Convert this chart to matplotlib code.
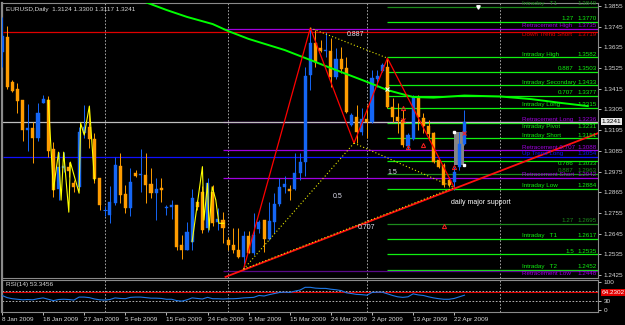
import matplotlib
matplotlib.use('Agg')
import matplotlib.pyplot as plt
import matplotlib.transforms as mtransforms
from matplotlib.patches import Rectangle

plt.rcParams['font.family'] = ['Liberation Sans', 'DejaVu Sans']

# daily EURUSD bars, one per trading day (Sunday bars included)
opens = [1.3610, 1.3690, 1.3451, 1.3414, 1.3355, 1.3195, 1.3206, 1.3153, 1.3339, 1.3355,
         1.3094, 1.2882, 1.2993, 1.2999, 1.2913, 1.2892, 1.3179, 1.3211, 1.3148, 1.2940,
         1.2772, 1.2743, 1.2807, 1.3004, 1.2855, 1.2780, 1.2967, 1.2956, 1.2956, 1.2908,
         1.2860, 1.2887, 1.2780, 1.2786, 1.2796, 1.2584, 1.2557, 1.2600, 1.2812, 1.2866,
         1.2674, 1.2866, 1.2706, 1.2717, 1.2610, 1.2584, 1.2557, 1.2520, 1.2632, 1.2541,
         1.2669, 1.2717, 1.2616, 1.2706, 1.2802, 1.2892, 1.2882, 1.2882, 1.2967, 1.3025,
         1.3488, 1.3658, 1.3632, 1.3616, 1.3616, 1.3477, 1.3573, 1.3525, 1.3222, 1.3265,
         1.3185, 1.3254, 1.3238, 1.3467, 1.3509, 1.3531, 1.3318, 1.3265, 1.3249, 1.3110,
         1.3148, 1.3371, 1.3259, 1.3217, 1.3179, 1.3036, 1.3009, 1.2929, 1.2919, 1.2999,
         1.3124]
highs = [1.3797, 1.3749, 1.3461, 1.3445, 1.3355, 1.3334, 1.3238, 1.3339, 1.3382, 1.3376,
         1.3132, 1.3078, 1.3078, 1.3025, 1.2929, 1.3211, 1.3328, 1.3318, 1.3179, 1.2940,
         1.2791, 1.2897, 1.3052, 1.3073, 1.2903, 1.2993, 1.2983, 1.3094, 1.3073, 1.2993,
         1.2940, 1.2940, 1.2796, 1.2823, 1.2796, 1.2637, 1.2706, 1.2881, 1.2823, 1.2897,
         1.2940, 1.2903, 1.2780, 1.2759, 1.2626, 1.2674, 1.2674, 1.2658, 1.2658, 1.2754,
         1.2717, 1.2717, 1.2812, 1.2860, 1.2940, 1.2951, 1.2903, 1.3073, 1.3073, 1.3531,
         1.3738, 1.3727, 1.3674, 1.3717, 1.3685, 1.3632, 1.3637, 1.3584, 1.3286, 1.3328,
         1.3312, 1.3328, 1.3515, 1.3515, 1.3552, 1.3578, 1.3366, 1.3339, 1.3302, 1.3179,
         1.3382, 1.3382, 1.3286, 1.3249, 1.3185, 1.3046, 1.3020, 1.2945, 1.2999, 1.3185,
         1.3300]
lows = [1.3531, 1.3412, 1.3398, 1.3286, 1.3137, 1.3084, 1.3020, 1.3137, 1.3339, 1.3052,
        1.2839, 1.2823, 1.2972, 1.2945, 1.2866, 1.2876, 1.3153, 1.3100, 1.2913, 1.2770,
        1.2738, 1.2701, 1.2796, 1.2807, 1.2754, 1.2738, 1.2945, 1.2866, 1.2807, 1.2834,
        1.2717, 1.2812, 1.2743, 1.2722, 1.2557, 1.2509, 1.2557, 1.2557, 1.2770, 1.2647,
        1.2653, 1.2685, 1.2663, 1.2594, 1.2557, 1.2541, 1.2514, 1.2456, 1.2541, 1.2530,
        1.2647, 1.2546, 1.2610, 1.2647, 1.2791, 1.2860, 1.2823, 1.2876, 1.2929, 1.2951,
        1.3408, 1.3531, 1.3610, 1.3584, 1.3424, 1.3467, 1.3499, 1.3286, 1.3217, 1.3126,
        1.3169, 1.3153, 1.3233, 1.3424, 1.3504, 1.3312, 1.3238, 1.3179, 1.3105, 1.3089,
        1.3142, 1.3195, 1.3179, 1.3142, 1.3020, 1.2993, 1.2892, 1.2892, 1.2876, 1.2983,
        1.3117]
closes = [1.3696, 1.3424, 1.3403, 1.3350, 1.3195, 1.3206, 1.3153, 1.3286, 1.3360, 1.3084,
          1.2876, 1.2999, 1.3004, 1.2977, 1.2892, 1.3185, 1.3211, 1.3148, 1.2935, 1.2796,
          1.2772, 1.2812, 1.3009, 1.2850, 1.2780, 1.2919, 1.2951, 1.2961, 1.2903, 1.2860,
          1.2882, 1.2876, 1.2786, 1.2796, 1.2573, 1.2557, 1.2653, 1.2834, 1.2786, 1.2663,
          1.2913, 1.2701, 1.2722, 1.2674, 1.2584, 1.2557, 1.2520, 1.2632, 1.2541, 1.2637,
          1.2706, 1.2616, 1.2711, 1.2802, 1.2892, 1.2908, 1.2871, 1.2967, 1.3025, 1.3483,
          1.3658, 1.3557, 1.3616, 1.3621, 1.3477, 1.3573, 1.3520, 1.3291, 1.3275, 1.3185,
          1.3254, 1.3238, 1.3472, 1.3483, 1.3541, 1.3318, 1.3265, 1.3243, 1.3116, 1.3169,
          1.3371, 1.3265, 1.3217, 1.3174, 1.3025, 1.2999, 1.2903, 1.2903, 1.2972, 1.3121,
          1.3241]

rsi_values = [52, 44, 40, 38, 36, 37, 36, 40, 43, 38,
              33, 37, 38, 37, 35, 46, 46, 44, 39, 36,
              35, 37, 43, 41, 40, 45, 46, 46, 44, 42,
              42, 41, 38, 38, 33, 31, 36, 43, 41, 39,
              45, 40, 40, 39, 40, 40, 41, 43, 44, 45,
              52, 50, 55, 59, 63, 64, 63, 68, 72, 82,
              82, 79, 78, 78, 75, 73, 70, 62, 59, 56,
              55, 53, 63, 64, 64, 58, 52, 47, 45, 47,
              58, 54, 52, 47, 43, 40, 38, 38, 41, 47,
              53]

date_ticks  = [0, 8, 16, 24, 32, 40, 48, 56, 64, 72, 80, 88]
date_labels = ['8 Jan 2009', '18 Jan 2009', '27 Jan 2009', '5 Feb 2009', '15 Feb 2009',
               '24 Feb 2009', '5 Mar 2009', '15 Mar 2009', '24 Mar 2009', '2 Apr 2009',
               '13 Apr 2009', '22 Apr 2009']
month_grid  = [20, 44, 71, 97]
price_ticks = [1.3855, 1.3745, 1.3635, 1.3525, 1.3415, 1.3305, 1.3195,
               1.3085, 1.2975, 1.2865, 1.2755, 1.2645, 1.2535, 1.2425]

# moving average (shifted forward), read at a few bars
ma_bars   = [27, 32, 36, 41, 44, 48, 55, 60, 64, 71, 75, 80, 84, 90, 97, 103, 109, 114]
ma_prices = [1.3885, 1.3834, 1.3797, 1.3759, 1.3722, 1.3680, 1.3621, 1.3568, 1.3525,
             1.3452, 1.3408, 1.3371, 1.3368, 1.3379, 1.3374, 1.3360, 1.3339, 1.3323]

# harmonic pattern X A B C D
pat_bars   = [47, 60, 68.5, 75, 88]
pat_prices = [1.2456, 1.3738, 1.3126, 1.3578, 1.2890]

trend_bars   = [43.5, 116]
trend_prices = [1.2415, 1.3179]

zig1_bars   = [9, 10, 11, 11.5, 12, 13, 13.3, 15, 15.3, 16, 17, 18]
zig1_prices = [1.3355, 1.2876, 1.3078, 1.2823, 1.3078, 1.2759, 1.3025, 1.2860,
               1.3233, 1.3169, 1.3323, 1.2929]
zig2_bars   = [37, 39, 39.3, 40, 40.3, 40.9, 41.6, 42.2, 43.2]
zig2_prices = [1.2602, 1.3001, 1.2717, 1.2912, 1.2664, 1.2894, 1.2824, 1.2700, 1.2700]

# pivot / retracement levels drawn on the right
level_names  = ['Intraday   T1', '1.27', 'Retracement High', 'Down Trend Short', 'Intraday High',
                '0.887', 'Intraday Secondary', '0.707', 'Intraday Long', 'Retracement Long',
                'Intraday Pivot', 'Intraday Short', 'Retracement 0.707', 'Up Trend Long', '0.786',
                '0.887', 'Retracement Short', 'Intraday Low', '1.27', 'Intraday   T1',
                '1.5', 'Intraday   T2', 'Retracement Low']
level_prices = [1.3849, 1.3770, 1.3735, 1.3719, 1.3582,
                1.3503, 1.3433, 1.3377, 1.3315, 1.3236,
                1.3231, 1.3151, 1.3088, 1.3054, 1.3033,
                1.2963, 1.2942, 1.2884, 1.2695, 1.2617,
                1.2535, 1.2452, 1.2448]
level_kinds  = ['dkgreen', 'green', 'purple', 'red', 'green',
                'green', 'green', 'green', 'green', 'purple',
                'green', 'green', 'purple', 'blue', 'green',
                'dkgreen', 'purple', 'green', 'dkgreen', 'green',
                'green', 'green', 'dkpurple']
# labels drawn under their line where two levels sit close together
labels_below = ['Down Trend Short', 'Intraday Pivot', '0.786', 'Retracement Low']

ratio_texts  = ['0.887', '0.5', '0.707', '1.5']
ratio_bars   = [68.8, 65.3, 71.0, 76.0]
ratio_prices = [1.3701, 1.2845, 1.2675, 1.2972]

arrow_bars   = [78, 79, 82, 88, 86]
arrow_prices = [1.3313, 1.3105, 1.3116, 1.2999, 1.2685]
cross_bars   = [78, 90]
cross_prices = [1.3249, 1.3180]

box_bars   = [88, 90]
box_prices = [1.3009, 1.3187]

last_price = 1.3241
rsi_last   = 53.3456


def main():
    bg      = '#000000'
    bull    = '#1566F5'
    bear    = '#FF9C00'
    fg      = '#D8D8D8'
    spine_c = '#8A8A8A'
    fs      = 4.6
    fs_lvl  = 4.5
    colors  = {'green': '#10F010', 'dkgreen': '#1C8A1C', 'purple': '#A000E0',
               'dkpurple': '#5A0A88', 'red': '#E00000', 'blue': '#1010FF'}

    fig = plt.figure(figsize=(6.25, 3.25), dpi=100, facecolor=bg)
    ax  = fig.add_axes([2 / 625, 47 / 325, 596 / 625, 275 / 325], facecolor=bg)
    ax2 = fig.add_axes([2 / 625, 13 / 325, 596 / 625, 32 / 325], facecolor=bg, sharex=ax)

    x_lo, x_hi = 0.17, 115.98
    ax.set_xlim(x_lo, x_hi)
    ax.set_ylim(1.24091, 1.38710)
    ax2.set_ylim(-9, 109)

    for a in (ax, ax2):
        for s in a.spines.values():
            s.set_color(spine_c)
            s.set_linewidth(0.8)
        a.spines['left'].set_linewidth(1.6)
        for g in month_grid:
            a.axvline(g, color='#BBBBBB', lw=0.6, ls=(0, (2, 2)), zorder=1)

    # candles
    for i in range(len(opens)):
        o, h, l, c = opens[i], highs[i], lows[i], closes[i]
        col = bull if c >= o else bear
        ax.vlines(i, l, h, color=col, lw=0.7, zorder=4)
        if abs(c - o) < 1e-6:
            ax.hlines(o, i - 0.35, i + 0.35, color=col, lw=0.8, zorder=4)
        else:
            ax.add_patch(Rectangle((i - 0.3, min(o, c)), 0.6, abs(c - o),
                                   facecolor=col, edgecolor=col, lw=0.3, zorder=5))

    ax.add_patch(Rectangle((box_bars[0], box_prices[0]), box_bars[1] - box_bars[0],
                           box_prices[1] - box_prices[0], facecolor='#858585',
                           edgecolor='none', zorder=3))
    ax.plot([box_bars[0], box_bars[1]], [box_prices[1], box_prices[0]], ls='none',
            marker='s', ms=1.6, color='white', zorder=7)

    # levels
    for name, p, kind in zip(level_names, level_prices, level_kinds):
        col = colors[kind]
        if kind in ('red', 'blue'):
            start = x_lo
        elif kind in ('purple', 'dkpurple'):
            start = 43
        else:
            start = 75
        ax.hlines(p, start, x_hi, color=col, lw=0.9, zorder=2)
        tcol = colors['purple'] if kind == 'dkpurple' else col
        if name in labels_below:
            ty, va = p - 0.0004, 'top'
        else:
            ty, va = p + 0.0004, 'bottom'
        if name[0].isdigit():
            ax.text(111.3, ty, name, color=tcol, fontsize=fs_lvl, ha='right', va=va, zorder=8)
        else:
            ax.text(101.2, ty, name, color=tcol, fontsize=fs_lvl, ha='left', va=va, zorder=8)
        ax.text(115.7, ty, f'{p:.4f}', color=tcol, fontsize=fs_lvl, ha='right', va=va, zorder=8)

    ax.axhline(last_price, color='#BEBEBE', lw=0.9, zorder=2)

    # moving average
    ax.plot(ma_bars, ma_prices, color='#00FF00', lw=1.4, zorder=6)

    # yellow zigzags
    ax.plot(zig1_bars, zig1_prices, color='#FFFF00', lw=0.8, zorder=6)
    ax.plot(zig2_bars, zig2_prices, color='#FFFF00', lw=0.8, zorder=6)

    # trend line
    ax.plot(trend_bars, trend_prices, color='#FF1010', lw=1.3, zorder=6)

    # pattern
    ax.plot(pat_bars, pat_prices, color='#FF0000', lw=0.9, zorder=6)
    dots = dict(color='#E8E800', lw=0.8, ls=(0, (1, 2)), zorder=7)
    for a_i, b_i in [(0, 2), (2, 4), (1, 3), (0, 4)]:
        ax.plot([pat_bars[a_i], pat_bars[b_i]], [pat_prices[a_i], pat_prices[b_i]], **dots)

    for t, b, p in zip(ratio_texts, ratio_bars, ratio_prices):
        ax.text(b, p, t, color='#E0E0F0', fontsize=fs + 0.4, ha='center', va='center', zorder=8)
    ax.text(87.4, 1.2813, 'daily major support', color='white', fontsize=fs + 0.4,
            ha='left', va='center', zorder=8)

    ax.plot(arrow_bars, arrow_prices, ls='none', marker='^', ms=3, mfc='none',
            mec='#FF2020', mew=0.7, zorder=8)
    ax.plot(cross_bars, cross_prices, ls='none', marker='x', ms=2.5, color='#FF2020',
            mew=0.8, zorder=8)
    ax.plot([75], [1.3412], ls='none', marker='x', ms=2.5, color='white', mew=0.8, zorder=8)
    ax.plot([92.6], [1.3850], ls='none', marker='v', ms=2.5, color='white', zorder=8)

    # axes
    ax.yaxis.tick_right()
    ax.set_yticks(price_ticks)
    ax.set_yticklabels([f'{v:.4f}' for v in price_ticks])
    ax.tick_params(axis='y', colors=fg, labelsize=fs, length=2, pad=2, width=0.6)
    ax.tick_params(axis='x', bottom=False, labelbottom=False)
    tr = mtransforms.blended_transform_factory(ax.transAxes, ax.transData)
    ax.text(1.006, last_price, f'{last_price:.4f}', transform=tr, color='black', fontsize=fs,
            ha='left', va='center', zorder=9, clip_on=False,
            bbox=dict(boxstyle='square,pad=0.15', fc='#E8E8E8', ec='none'))
    ax.text(0.006, 0.985, f'EURUSD,Daily  {opens[-1]:.4f} {highs[-1]:.4f} {lows[-1]:.4f} {closes[-1]:.4f}',
            transform=ax.transAxes, color=fg, fontsize=fs, ha='left', va='top')

    # RSI panel
    ax2.plot(range(len(rsi_values)), rsi_values, color='#1E78E6', lw=0.8, zorder=4)
    ax2.axhline(70, color='#D0D0D0', lw=0.6, ls=(0, (2, 2)))
    ax2.axhline(30, color='#D0D0D0', lw=0.6, ls=(0, (2, 2)))
    ax2.axhline(64.23, color='#E00000', lw=0.8)
    ax2.yaxis.tick_right()
    ax2.set_yticks([100, 30, 0])
    ax2.tick_params(axis='y', colors=fg, labelsize=fs, length=2, pad=2, width=0.6)
    tr2 = mtransforms.blended_transform_factory(ax2.transAxes, ax2.transData)
    ax2.text(1.006, 64.23, '64.2302', transform=tr2, color='white', fontsize=fs,
             ha='left', va='center', clip_on=False,
             bbox=dict(boxstyle='square,pad=0.15', fc='#E00000', ec='none'))
    ax2.text(0.006, 0.93, f'RSI(14) {rsi_last:.4f}', transform=ax2.transAxes, color=fg,
             fontsize=fs, ha='left', va='top')

    ax2.set_xticks(date_ticks)
    ax2.set_xticklabels(date_labels)
    ax2.tick_params(axis='x', colors=fg, labelsize=fs, length=2, pad=1.5, width=0.6)
    for lab in ax2.get_xticklabels():
        lab.set_ha('left')

    fig.savefig('out.png', dpi=100, facecolor=bg)


if __name__ == '__main__':
    main()
